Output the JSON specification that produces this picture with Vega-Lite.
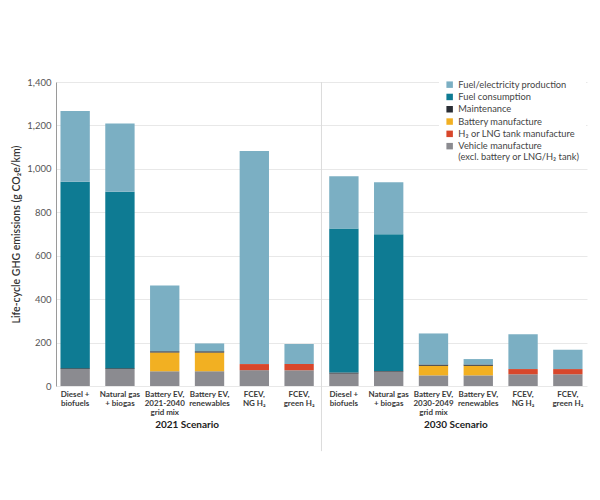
{
  "$schema": "https://vega.github.io/schema/vega-lite/v6.json",
  "width": 531,
  "height": 304,
  "autosize": {"type": "none"},
  "padding": {"left": 56, "top": 82, "right": 13, "bottom": 114},
  "background": "white",
  "config": {
    "font": "Lato",
    "view": {"stroke": null}
  },
  "datasets": {
    "emissions": [
      {"bar": "2021|Diesel +|biofuels", "source": "Vehicle manufacture|(excl. battery or LNG/H₂ tank)", "stack": 1, "value": 78},
      {"bar": "2021|Diesel +|biofuels", "source": "Maintenance", "stack": 4, "value": 4},
      {"bar": "2021|Diesel +|biofuels", "source": "Fuel consumption", "stack": 5, "value": 859},
      {"bar": "2021|Diesel +|biofuels", "source": "Fuel/electricity production", "stack": 6, "value": 325},

      {"bar": "2021|Natural gas|+ biogas", "source": "Vehicle manufacture|(excl. battery or LNG/H₂ tank)", "stack": 1, "value": 78},
      {"bar": "2021|Natural gas|+ biogas", "source": "Maintenance", "stack": 4, "value": 4},
      {"bar": "2021|Natural gas|+ biogas", "source": "Fuel consumption", "stack": 5, "value": 813},
      {"bar": "2021|Natural gas|+ biogas", "source": "Fuel/electricity production", "stack": 6, "value": 314},

      {"bar": "2021|Battery EV,|2021-2040|grid mix", "source": "Vehicle manufacture|(excl. battery or LNG/H₂ tank)", "stack": 1, "value": 68},
      {"bar": "2021|Battery EV,|2021-2040|grid mix", "source": "Battery manufacture", "stack": 3, "value": 86},
      {"bar": "2021|Battery EV,|2021-2040|grid mix", "source": "Maintenance", "stack": 4, "value": 6},
      {"bar": "2021|Battery EV,|2021-2040|grid mix", "source": "Fuel/electricity production", "stack": 6, "value": 303},

      {"bar": "2021|Battery EV,|renewables", "source": "Vehicle manufacture|(excl. battery or LNG/H₂ tank)", "stack": 1, "value": 68},
      {"bar": "2021|Battery EV,|renewables", "source": "Battery manufacture", "stack": 3, "value": 86},
      {"bar": "2021|Battery EV,|renewables", "source": "Maintenance", "stack": 4, "value": 6},
      {"bar": "2021|Battery EV,|renewables", "source": "Fuel/electricity production", "stack": 6, "value": 36},

      {"bar": "2021|FCEV,|NG H₂", "source": "Vehicle manufacture|(excl. battery or LNG/H₂ tank)", "stack": 1, "value": 73},
      {"bar": "2021|FCEV,|NG H₂", "source": "H₂ or LNG tank manufacture", "stack": 2, "value": 28},
      {"bar": "2021|FCEV,|NG H₂", "source": "Fuel/electricity production", "stack": 6, "value": 981},

      {"bar": "2021|FCEV,|green H₂", "source": "Vehicle manufacture|(excl. battery or LNG/H₂ tank)", "stack": 1, "value": 73},
      {"bar": "2021|FCEV,|green H₂", "source": "H₂ or LNG tank manufacture", "stack": 2, "value": 28},
      {"bar": "2021|FCEV,|green H₂", "source": "Fuel/electricity production", "stack": 6, "value": 92},

      {"bar": "2030|Diesel +|biofuels", "source": "Vehicle manufacture|(excl. battery or LNG/H₂ tank)", "stack": 1, "value": 57},
      {"bar": "2030|Diesel +|biofuels", "source": "Maintenance", "stack": 4, "value": 5},
      {"bar": "2030|Diesel +|biofuels", "source": "Fuel consumption", "stack": 5, "value": 663},
      {"bar": "2030|Diesel +|biofuels", "source": "Fuel/electricity production", "stack": 6, "value": 241},

      {"bar": "2030|Natural gas|+ biogas", "source": "Vehicle manufacture|(excl. battery or LNG/H₂ tank)", "stack": 1, "value": 66},
      {"bar": "2030|Natural gas|+ biogas", "source": "Maintenance", "stack": 4, "value": 3},
      {"bar": "2030|Natural gas|+ biogas", "source": "Fuel consumption", "stack": 5, "value": 630},
      {"bar": "2030|Natural gas|+ biogas", "source": "Fuel/electricity production", "stack": 6, "value": 239},

      {"bar": "2030|Battery EV,|2030-2049|grid mix", "source": "Vehicle manufacture|(excl. battery or LNG/H₂ tank)", "stack": 1, "value": 49},
      {"bar": "2030|Battery EV,|2030-2049|grid mix", "source": "Battery manufacture", "stack": 3, "value": 44},
      {"bar": "2030|Battery EV,|2030-2049|grid mix", "source": "Maintenance", "stack": 4, "value": 6},
      {"bar": "2030|Battery EV,|2030-2049|grid mix", "source": "Fuel/electricity production", "stack": 6, "value": 143},

      {"bar": "2030|Battery EV,|renewables", "source": "Vehicle manufacture|(excl. battery or LNG/H₂ tank)", "stack": 1, "value": 49},
      {"bar": "2030|Battery EV,|renewables", "source": "Battery manufacture", "stack": 3, "value": 44},
      {"bar": "2030|Battery EV,|renewables", "source": "Maintenance", "stack": 4, "value": 6},
      {"bar": "2030|Battery EV,|renewables", "source": "Fuel/electricity production", "stack": 6, "value": 25},

      {"bar": "2030|FCEV,|NG H₂", "source": "Vehicle manufacture|(excl. battery or LNG/H₂ tank)", "stack": 1, "value": 54},
      {"bar": "2030|FCEV,|NG H₂", "source": "H₂ or LNG tank manufacture", "stack": 2, "value": 24},
      {"bar": "2030|FCEV,|NG H₂", "source": "Fuel/electricity production", "stack": 6, "value": 160},

      {"bar": "2030|FCEV,|green H₂", "source": "Vehicle manufacture|(excl. battery or LNG/H₂ tank)", "stack": 1, "value": 54},
      {"bar": "2030|FCEV,|green H₂", "source": "H₂ or LNG tank manufacture", "stack": 2, "value": 24},
      {"bar": "2030|FCEV,|green H₂", "source": "Fuel/electricity production", "stack": 6, "value": 89}
    ],
    "scenarios": [
      {"bar": "2021|Battery EV,|renewables", "label": "2021 Scenario", "y": -178},
      {"bar": "2030|Battery EV,|renewables", "label": "2030 Scenario", "y": -178}
    ],
    "divider": [
      {"bar": "2030|Diesel +|biofuels", "top": 1400, "bottom": -300}
    ]
  },
  "encoding": {
    "x": {
      "field": "bar",
      "type": "nominal",
      "scale": {
        "domain": [
          "2021|Diesel +|biofuels",
          "2021|Natural gas|+ biogas",
          "2021|Battery EV,|2021-2040|grid mix",
          "2021|Battery EV,|renewables",
          "2021|FCEV,|NG H₂",
          "2021|FCEV,|green H₂",
          "2030|Diesel +|biofuels",
          "2030|Natural gas|+ biogas",
          "2030|Battery EV,|2030-2049|grid mix",
          "2030|Battery EV,|renewables",
          "2030|FCEV,|NG H₂",
          "2030|FCEV,|green H₂"
        ],
        "paddingInner": 0.345,
        "paddingOuter": 0.1
      },
      "axis": {
        "title": null,
        "labelExpr": "slice(split(datum.label, '|'), 1)",
        "labelAngle": 0,
        "labelFontSize": 8,
        "labelFontWeight": "bold",
        "labelColor": "#3a3a3a",
        "labelLineHeight": 9,
        "labelPadding": 4,
        "labelBaseline": "top",
        "domain": false,
        "ticks": false,
        "grid": false
      }
    }
  },
  "layer": [
    {
      "data": {"name": "divider"},
      "mark": {"type": "rule", "color": "#dcdcdc", "strokeWidth": 1},
      "encoding": {
        "x": {"field": "bar", "type": "nominal", "bandPosition": -0.264},
        "y": {"field": "top", "type": "quantitative"},
        "y2": {"field": "bottom"}
      }
    },
    {
      "data": {"name": "emissions"},
      "mark": {"type": "bar"},
      "encoding": {
        "y": {
          "field": "value",
          "type": "quantitative",
          "stack": "zero",
          "scale": {"domain": [0, 1400], "nice": false},
          "axis": {
            "title": "Life-cycle GHG emissions (g CO₂e/km)",
            "titleFontSize": 10.5,
            "titleFontWeight": 600,
            "titleColor": "#333333",
            "titlePadding": 5,
            "values": [0, 200, 400, 600, 800, 1000, 1200, 1400],
            "format": ",.0f",
            "labelFontSize": 9.5,
            "labelColor": "#555555",
            "labelPadding": 5,
            "ticks": false,
            "domainColor": "#9a9a9a",
            "domainWidth": 1,
            "gridColor": "#e2e2e2",
            "gridWidth": 0.8
          }
        },
        "color": {
          "field": "source",
          "type": "nominal",
          "scale": {
            "domain": [
              "Fuel/electricity production",
              "Fuel consumption",
              "Maintenance",
              "Battery manufacture",
              "H₂ or LNG tank manufacture",
              "Vehicle manufacture|(excl. battery or LNG/H₂ tank)"
            ],
            "range": ["#7bafc3", "#0e7b93", "#2a2e35", "#f2b022", "#d8472b", "#8b8b90"]
          },
          "legend": {
            "title": null,
            "orient": "none",
            "legendX": 383,
            "legendY": -8,
            "direction": "vertical",
            "fillColor": "white",
            "padding": 6,
            "symbolType": "square",
            "symbolSize": 42,
            "symbolStrokeWidth": 0,
            "labelFontSize": 9.3,
            "labelColor": "#444444",
            "labelLimit": 220,
            "labelOffset": 4,
            "labelLineHeight": 10,
            "rowPadding": 2.3,
            "labelExpr": "split(datum.label, '|')"
          }
        },
        "order": {"field": "stack", "type": "quantitative", "sort": "ascending"}
      }
    },
    {
      "data": {"name": "scenarios"},
      "mark": {"type": "text", "fontSize": 10, "fontWeight": "bold", "color": "#222222", "baseline": "middle", "align": "center"},
      "encoding": {
        "x": {"field": "bar", "type": "nominal", "bandPosition": -0.264},
        "y": {"field": "y", "type": "quantitative"},
        "text": {"field": "label"}
      }
    }
  ]
}
